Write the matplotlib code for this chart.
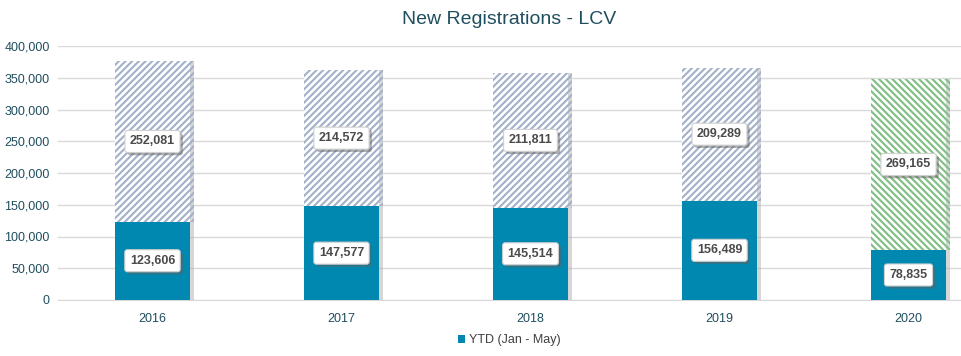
import matplotlib
matplotlib.use('Agg')
import matplotlib.pyplot as plt
import matplotlib.patheffects as pe
from matplotlib.patches import Patch

plt.rcParams['font.family'] = ['Liberation Sans', 'DejaVu Sans']
plt.rcParams['hatch.linewidth'] = 1.5

years = ['2016', '2017', '2018', '2019', '2020']
ytd = [123606, 147577, 145514, 156489, 78835]
rest = [252081, 214572, 211811, 209289, 269165]
rest_colors = ['#A3B0CA', '#A3B0CA', '#A3B0CA', '#A3B0CA', '#7FBF82']
rest_hatch = ['/////', '/////', '/////', '/////', '\\\\\\\\\\']

fig = plt.figure(figsize=(9.61, 3.56), dpi=100)
ax = fig.add_axes([58 / 961, 56 / 356, 903 / 961, 254 / 356])

x = range(len(years))
shadow = [pe.SimplePatchShadow(offset=(3, 0), shadow_rgbFace='#b0b0b0', alpha=0.5), pe.Normal()]

ax.bar(x, ytd, width=0.4, color='#0088B0', zorder=3, path_effects=shadow)
for i in x:
    ax.bar(i, rest[i], bottom=ytd[i], width=0.4, facecolor='white', edgecolor=rest_colors[i],
           linewidth=0, hatch=rest_hatch[i], zorder=3, path_effects=shadow)

# data labels
for i in x:
    for y, v in [(ytd[i] / 2, ytd[i]), (ytd[i] + rest[i] / 2, rest[i])]:
        t = ax.text(i, y, f'{v:,}', ha='center', va='center', fontsize=9, fontweight='bold',
                    color='#4a4a4a', zorder=5,
                    bbox=dict(boxstyle='round,pad=0.4,rounding_size=0.2', facecolor='white',
                              edgecolor='#d0d0d0', linewidth=0.8))
        t.get_bbox_patch().set_path_effects(
            [pe.SimplePatchShadow(offset=(2, -2), shadow_rgbFace='#606060', alpha=0.5), pe.Normal()])

ax.set_xlim(-0.5, 4.5 - 42 / 189)
ax.set_ylim(0, 400000)
ax.set_yticks(range(0, 400001, 50000))
ax.set_yticklabels([f'{v:,}' for v in range(0, 400001, 50000)])
ax.set_xticks(list(x))
ax.set_xticklabels(years)
ax.tick_params(axis='both', length=0, labelsize=9, colors='#1F4E5F', pad=6)
ax.tick_params(axis='x', pad=9)
ax.grid(axis='y', color='#d9d9d9', linewidth=1, zorder=0)
for s in ['top', 'right', 'left']:
    ax.spines[s].set_visible(False)
ax.spines['bottom'].set_color('#d9d9d9')

cx = 509 / 961
fig.text(cx, 1 - 20 / 356, 'New Registrations - LCV', ha='center', va='center',
         fontsize=14, color='#1F4E5F')

fig.legend(handles=[Patch(facecolor='#0088B0', label='YTD (Jan - May)')],
           loc='center', bbox_to_anchor=(cx, 1 - 340 / 356), frameon=False, fontsize=9,
           handlelength=0.6, handleheight=0.6, handletextpad=0.3, labelcolor='#404040')

fig.savefig('out.png', dpi=100)
